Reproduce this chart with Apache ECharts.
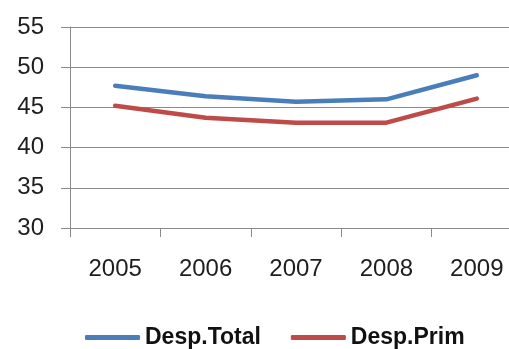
<!DOCTYPE html>
<html>
<head>
<meta charset="utf-8">
<script src="https://cdn.jsdelivr.net/npm/echarts@6/dist/echarts.min.js"></script>
<style>
  html, body { margin: 0; padding: 0; background: #ffffff; overflow: hidden; }
  /* canvas runs past the right edge so the last category column is cut off */
  #chart { width: 530px; height: 349px; }
</style>
</head>
<body>
<div id="chart"></div>
<script>
// Years on the horizontal axis
const years = ['2005', '2006', '2007', '2008', '2009'];
// Series values
const despTotal = [47.7, 46.4, 45.7, 46.0, 49.0];
const despPrim = [45.2, 43.7, 43.1, 43.1, 46.1];
// Value axis range
const yMin = 30;
const yMax = 55;
const yStep = 5;

const chart = echarts.init(document.getElementById('chart'), null, { renderer: 'canvas' });

const axisGray = '#8a8a8a';
const textColor = '#1e1e1e';
const fontFamily = '"Liberation Sans", Arial, sans-serif';

chart.setOption({
  animation: false,
  backgroundColor: '#ffffff',
  grid: { left: 70, top: 27, width: 452, bottom: 121, containLabel: false },
  xAxis: {
    type: 'category',
    data: years,
    boundaryGap: true,
    axisLine: { show: true, lineStyle: { color: axisGray, width: 1 } },
    axisTick: { show: true, length: 9, lineStyle: { color: axisGray } },
    axisLabel: { margin: 29, color: textColor, fontSize: 24, fontFamily: fontFamily },
    splitLine: { show: false }
  },
  yAxis: {
    type: 'value',
    min: yMin,
    max: yMax,
    interval: yStep,
    axisLine: { show: true, lineStyle: { color: axisGray, width: 1 } },
    axisTick: { show: true, length: 9, lineStyle: { color: axisGray } },
    axisLabel: { margin: 26, color: textColor, fontSize: 24, fontFamily: fontFamily },
    splitLine: { show: true, lineStyle: { color: axisGray, width: 1 } }
  },
  legend: {
    left: 85,
    top: 326,
    padding: 0,
    itemWidth: 55,
    itemHeight: 5,
    itemGap: 30,
    icon: 'roundRect',
    textStyle: { color: '#111111', fontSize: 23, fontWeight: 'bold', fontFamily: fontFamily },
    data: ['Desp.Total', 'Desp.Prim']
  },
  series: [
    {
      name: 'Desp.Total',
      type: 'line',
      data: despTotal,
      symbol: 'none',
      color: '#4a7ebb',
      lineStyle: { width: 4.5, color: '#4a7ebb', cap: 'round', join: 'round' }
    },
    {
      name: 'Desp.Prim',
      type: 'line',
      data: despPrim,
      symbol: 'none',
      color: '#be4b48',
      lineStyle: { width: 4.5, color: '#be4b48', cap: 'round', join: 'round' }
    }
  ]
});
</script>
</body>
</html>
